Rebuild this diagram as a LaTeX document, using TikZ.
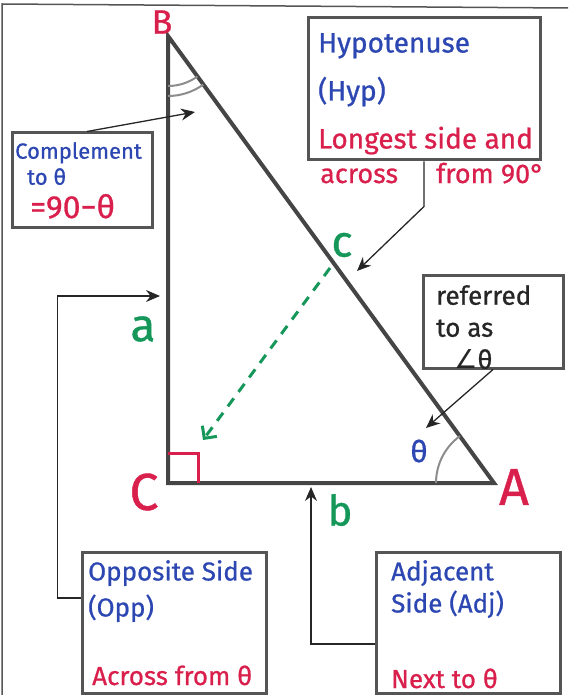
\documentclass[tikz,border=0pt]{standalone}
\usepackage{fontspec}
\setmainfont{Fira Sans}[FakeBold=0.8]
\newfontfamily\glyphfont{DejaVu Sans}
\usetikzlibrary{arrows.meta,positioning,calc}
\definecolor{ink}{HTML}{262626}
\definecolor{edge}{HTML}{454545}
\definecolor{boxline}{HTML}{555555}
\definecolor{redpen}{HTML}{D91F4C}
\definecolor{bluepen}{HTML}{2D47B2}
\definecolor{greenpen}{HTML}{16975A}
\definecolor{arcgray}{HTML}{8C8C8C}
\tikzset{
  side/.style={draw=edge, line width=4pt, line join=miter},
  notebox/.style={draw=boxline, line width=3pt, inner sep=0pt},
  note/.style={anchor=north west, align=left, inner sep=0pt},
  pointer/.style={-{Stealth[length=14pt,width=12pt]}, line width=1.3pt, draw=ink},
  vertex/.style={text=redpen, inner sep=0pt},
  sidename/.style={text=greenpen, inner sep=0pt}
}

\begin{document}
\begin{tikzpicture}[x=1pt,y=-1pt]
        \useasboundingbox (0,0) rectangle (568,695);
        % page edge
        \draw[draw=boxline, line width=1.5pt] (2,695) -- (2,4) -- (568,8);

        % triangle
        \coordinate (B) at (168,36);
        \coordinate (C) at (168,483);
        \coordinate (A) at (494,483);
        \draw[side] (B) -- (C) -- (A) -- cycle;
        \draw[draw=redpen, line width=3pt] ($(C)+(0,-30)$) -| ($(C)+(30,0)$);
        \draw[draw=arcgray, line width=2pt] ($(B)+(90:50)$) arc[start angle=90, end angle=54, radius=50];
        \draw[draw=arcgray, line width=2pt] ($(B)+(90:60)$) arc[start angle=90, end angle=54, radius=60];
        \draw[draw=arcgray, line width=2pt] ($(A)+(180:58)$) arc[start angle=180, end angle=234, radius=58];

        % vertex and side names
        \node[vertex, font=\fontsize{34}{34}\selectfont] (B name) at (162,22) {B};
        \node[vertex, font=\fontsize{52}{52}\selectfont] (C name) at (144,492) {C};
        \node[vertex, font=\fontsize{52}{52}\selectfont] (A name) at (514,487) {A};
        \node[sidename, font=\fontsize{46}{46}\selectfont] (a name) at (143,329) {a};
        \node[sidename, font=\fontsize{42}{42}\selectfont] (b name) at (340,510) {b};
        \node[sidename, font=\fontsize{44}{44}\selectfont] (c name) at (342,245) {c};
        \node[text=bluepen, inner sep=0pt, font=\fontsize{30}{30}\selectfont] (theta) at (419,451) {θ};

        % hypotenuse note
        \node[notebox, minimum width=232pt, minimum height=142pt] (hyp) at (424,89) {};
        \node[note, font=\fontsize{28}{48}\selectfont] (hyp text) at (318,33)
          {\textcolor{bluepen}{Hypotenuse}\\\textcolor{bluepen}{(Hyp)}\\\textcolor{redpen}{Longest side and}};
        \node[note, anchor=base west, text=redpen, font=\fontsize{27}{27}\selectfont] (across) at (320,183) {across};
        \node[note, anchor=base west, text=redpen, font=\fontsize{27}{27}\selectfont] (from) at (436,183) {from 90°};
        \coordinate (hyp tip) at (357,271);
        \draw[pointer] (hyp.south) -- ++(0,45) -- (hyp tip);

        % complement note
        \node[notebox, minimum width=140pt, minimum height=94pt] (comp) at (82,180) {};
        \node[note, text=bluepen, font=\fontsize{22}{26}\selectfont] (comp text) at (15,142)
          {Complement\\\hspace*{12pt}to θ};
        \node[note, anchor=base west, text=redpen, font=\fontsize{32}{32}\selectfont] (comp value) at (30,218) {=90−θ};
        \coordinate (B tip) at (195,112);
        \draw[pointer] ([xshift=5pt]comp.north) -- (B tip);

        % angle note
        \node[notebox, minimum width=140pt, minimum height=93pt] (ref) at (493,321.5) {};
        \node[note, text=ink, font=\fontsize{26}{32}\selectfont] (ref text) at (436,285)
          {referred\\to as\\\hspace*{18pt}{\glyphfont ∠}θ};
        \coordinate (A tip) at (426,428);
        \draw[pointer] (ref.south) -- (A tip);

        % opposite note
        \node[notebox, minimum width=184pt, minimum height=141pt] (opp) at (174,622.5) {};
        \node[note, text=bluepen, font=\fontsize{26}{36}\selectfont] (opp text) at (88,560)
          {Opposite Side\\(Opp)};
        \node[note, anchor=base west, text=redpen, font=\fontsize{26}{26}\selectfont] (opp rule) at (92,685) {Across from θ};
        \coordinate (a tip) at (160,296);
        \draw[pointer] ([yshift=24.5pt]opp.west) -- ++(-23,0) |- (a tip);

        % adjacent note
        \node[notebox, minimum width=184pt, minimum height=141pt] (adj) at (468,622.5) {};
        \node[note, text=bluepen, font=\fontsize{26}{32}\selectfont] (adj text) at (391,560)
          {Adjacent\\Side (Adj)};
        \node[note, anchor=base west, text=redpen, font=\fontsize{26}{26}\selectfont] (adj rule) at (391,688) {Next to θ};
        \coordinate (b tip) at (311,487);
        \draw[pointer] ([yshift=-21.5pt]adj.west) -| (b tip);

        % drop from c to the right angle
        \coordinate (c foot) at (330,268);
        \coordinate (C tip) at (203,440);
        \draw[draw=greenpen, line width=3pt, dash pattern=on 10pt off 8pt,
              -{Straight Barb[length=9pt,width=18pt]}] (c foot) -- (C tip);
      \end{tikzpicture}
\end{document}
